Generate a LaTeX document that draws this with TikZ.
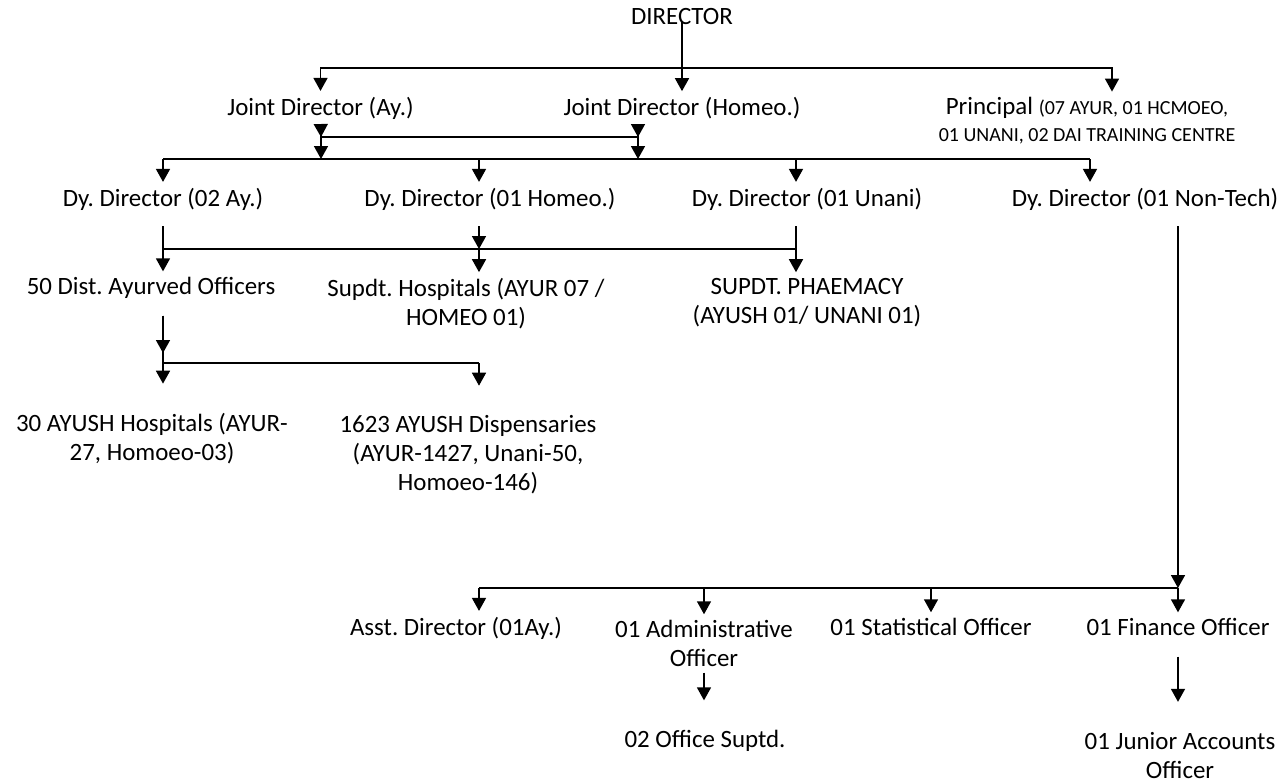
\documentclass[tikz,border=0pt]{standalone}
\usepackage{fontspec}
\setmainfont{Carlito}
\frenchspacing
\usetikzlibrary{positioning,arrows.meta}

\begin{document}
\begin{tikzpicture}[x=0.5pt, y=-0.5pt, line width=0.8pt, >={Triangle[length=6.5pt,width=7pt]},
    post/.style = {inner sep=0pt, outer sep=3pt, align=center, font=\fontsize{12.45}{14.5}\selectfont}]
    \useasboundingbox (0,0) rectangle (1287,783);
    % posts
    \node[post] (dir) at (682,17) {DIRECTOR};
    \node[post] (jda) at (320.5,108) {Joint Director (Ay.)};
    \node[post] (jdh) at (682,108) {Joint Director (Homeo.)};
    \node[post, font=\fontsize{12.45}{13.5}\selectfont] (prin) at (1087,121) {Principal {\fontsize{10}{13.5}\selectfont(07 AYUR, 01 HCMOEO,}\\{\fontsize{10}{13.5}\selectfont 01 UNANI, 02 DAI TRAINING CENTRE}};
    \node[post] (ddA) at (163,199) {Dy. Director (02 Ay.)};
    \node[post] (ddH) at (490,199) {Dy. Director (01 Homeo.)};
    \node[post] (ddU) at (807,199) {Dy. Director (01 Unani)};
    \node[post] (ddN) at (1145,199) {Dy. Director (01 Non-Tech)};
    \node[post] (dao) at (151,288) {50 Dist. Ayurved Officers};
    \node[post] (sh) at (466,303.5) {Supdt. Hospitals (AYUR 07 /\\HOMEO 01)};
    \node[post] (sp) at (807,302.5) {SUPDT. PHAEMACY\\(AYUSH 01/ UNANI 01)};
    \node[post] (ah) at (152,439) {30 AYUSH Hospitals (AYUR-\\27, Homoeo-03)};
    \node[post] (ad) at (468,455) {1623 AYUSH Dispensaries\\(AYUR-1427, Unani-50,\\Homoeo-146)};
    \node[post] (asd) at (456,628) {Asst. Director (01Ay.)};
    \node[post] (adm) at (704,643.5) {01 Administrative\\Officer};
    \node[post] (stat) at (931,627) {01 Statistical Officer};
    \node[post] (fin) at (1178,627) {01 Finance Officer};
    \node[post] (os) at (705,741) {02 Office Suptd.};
    \node[post] (jao) at (1180,756) {01 Junior Accounts\\Officer};

    % director level
    \coordinate (top) at (682,68);
    \draw[->, shorten <=-5pt] (dir) -- (jdh);
    \draw[->] (top) -| (jda);
    \draw[->] (top) -| ([xshift=12.5pt]prin.north);

    % joint directors
    \coordinate (ja) at (321,137);
    \coordinate (jh) at (638,137);
    \coordinate (dyl) at (163,159);
    \coordinate (dyr) at (1090,159);
    \draw[->, shorten <=-6.5pt] (jda) -- (ja);
    \draw[->, shorten <=-6.5pt] ([xshift=-22pt]jdh.south) -- (jh);
    \draw (ja) -- (jh);
    \draw[->] (ja) -- (ja |- dyl);
    \draw[->] (jh) -- (jh |- dyl);
    \draw (dyl) -- (dyr);
    \coordinate (hx) at ([xshift=-5.5pt]ddH.north);
    \coordinate (ux) at ([xshift=-5.5pt]ddU.north);
    \draw[->] (dyl) -- (ddA);
    \draw[->] (hx |- dyl) -- (hx);
    \draw[->] (ux |- dyl) -- (ux);
    \draw[->] (dyr) -- ([xshift=-27.5pt]ddN.north);

    % deputy directors
    \coordinate (sb) at (163,249);
    \coordinate (se) at (796,249);
    \draw[shorten <=5pt] (ddA) -- (ddA |- sb);
    \draw[->, shorten <=5pt] ([xshift=-5.5pt]ddH.south) -- (hx |- sb);
    \draw[shorten <=5pt] ([xshift=-5.5pt]ddU.south) -- (se);
    \draw (sb) -- (se);
    \draw[->] (sb) -- ([xshift=6pt]dao.north);
    \draw[->] (hx |- sb) -- ([xshift=6.5pt]sh.north);
    \draw[->] (se) -- ([xshift=-5.5pt]sp.north);

    % district officers
    \coordinate (db) at (163,363);
    \coordinate (de) at (479,363);
    \draw[shorten <=5.5pt] (dao.south -| db) -- (db) -- (de);
    \draw[->, shorten <=5.5pt, shorten >=5pt] (dao.south -| db) -- (db);
    \draw[->, shorten >=12pt] (db) -- (ah.north -| db);
    \draw[->, shorten >=12pt] (de) -- (ad.north -| de);

    % non-tech
    \coordinate (fb) at (479,588);
    \draw[->, shorten <=5pt] (ddN.south -| fin) -- (fin |- fb);
    \draw (fb) -- (fin |- fb);
    \draw[->] (fb) -- (asd.north -| fb);
    \draw[->] (adm |- fb) -- (adm);
    \draw[->] (stat |- fb) -- (stat);
    \draw[->] (fin |- fb) -- (fin);
    \draw[->, shorten >=12pt] (adm) -- (adm |- os.north);
    \draw[->, shorten <=7.5pt, shorten >=12.5pt] (fin) -- (fin |- jao.north);
\end{tikzpicture}
\end{document}
